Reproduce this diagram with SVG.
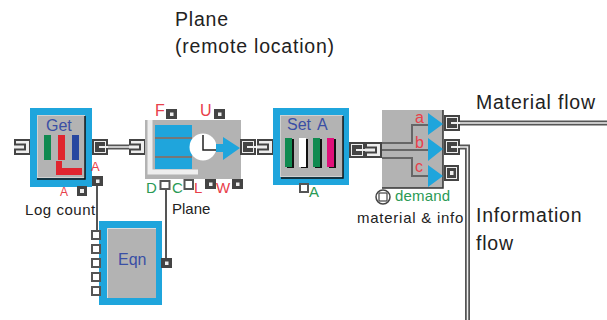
<svg xmlns="http://www.w3.org/2000/svg" width="607" height="320" viewBox="0 0 607 320">
<style>
text{font-family:"Liberation Sans",Arial,sans-serif}
.big{font-size:19.5px;fill:#222;letter-spacing:.8px}
.lab{font-size:15px;fill:#222;letter-spacing:.55px}
.r{font-size:14px;fill:#e8404a}
.g{font-size:15px;fill:#2a9a55}
.blu{font-size:16px;fill:#3a4fa5}
.wire{fill:none;stroke:#555;stroke-width:2}
.dbl{fill:none;stroke:#555;stroke-width:5}
.dbl2{fill:none;stroke:#eee;stroke-width:1.5}
.pf{fill:#fff;stroke:#555;stroke-width:2}
.frame{fill:#1fa5dc}
.body{fill:#b3b3b3}
.tri{fill:#1fa5dc}
.shadow{fill:none;stroke:#111;stroke-width:1.5}
.dots{fill:none;stroke:#eee;stroke-width:1;stroke-dasharray:1 1}
</style>
<defs>
<g id="pin"><rect x="1" y="1" width="15" height="14" fill="#eee" stroke="#444" stroke-width="2"/><path d="M0 5.5H11V10.5H0" fill="#eee" stroke="#444" stroke-width="2"/></g>
<g id="pout"><rect x="1" y="1" width="14" height="14" fill="#eee" stroke="#444" stroke-width="2"/><rect x="3" y="3" width="10" height="10" fill="#444"/><rect x="7" y="7" width="9" height="2" fill="#eee"/></g>
<g id="sd"><rect width="11" height="10" fill="#444"/><rect x="4" y="3.5" width="3.5" height="3.5" fill="#eee"/></g>
</defs>
<g id="connectors">
<path class="dbl" d="M107 147H130M458 123H607"/>
<path class="dbl2" d="M107 147H130M458 123H607"/>
<path class="dbl" d="M458 147H467.500V320"/>
<path class="dbl2" d="M458 147H467.500V320"/>
<path class="wire" d="M97 186V231M166 189V259"/>
</g>
<g id="title"><text class="big" x="175" y="26">Plane</text><text class="big" x="175" y="53">(remote location)</text></g>
<g id="source"><use href="#pin" x="14" y="139"/></g>
<g id="get">
<rect class="frame" x="30" y="108" width="62" height="79"/>
<rect class="body" x="37" y="115" width="48" height="63"/>
<rect class="dots" x="37.500" y="115.500" width="47" height="62"/>
<path class="shadow" d="M85 116V179H37"/>
<text class="blu" x="46" y="131">Get</text>
<rect x="44" y="135" width="7" height="25" fill="#108a50"/>
<rect x="58" y="135" width="7" height="25" fill="#e0252f"/>
<rect x="72" y="135" width="7" height="25" fill="#2848a0"/>
<path d="M56 161H62V168H82V175H56Z" fill="#e0252f"/>
<use href="#pout" x="92" y="139"/>
<text class="r" x="91" y="171" style="font-size:13px">A</text>
<rect x="77" y="186" width="10" height="10" fill="#444"/><rect x="80" y="189" width="4" height="4" fill="#eee"/>
<use href="#sd" x="92" y="176"/>
<text class="r" x="60" y="196" style="font-size:12px">A</text>
<text class="lab" x="25" y="215">Log count</text>
</g>
<g id="plane">
<use href="#pin" x="129" y="139"/>
<rect x="145" y="120" width="96" height="59" fill="#b3b3b3"/>
<path d="M150 120V172H198" fill="none" stroke="#eee" stroke-width="5"/>
<rect class="frame" x="155" y="125" width="37" height="44"/>
<path d="M155 138H192M155 157H192" stroke="#777" stroke-width="2"/>
<circle cx="203" cy="147" r="13.500" fill="#fff"/>
<path d="M203 135V150H216" fill="none" stroke="#222" stroke-width="1.5"/>
<path class="tri" d="M223 137L240 148L223 160V152H216V144H223Z"/>
<text class="r" x="155" y="116" style="font-size:16px">F</text><use href="#sd" x="166" y="109"/>
<text class="r" x="200" y="116" style="font-size:16px">U</text><use href="#sd" x="214" y="109"/>
<text class="g" x="146" y="193">D</text><rect class="pf" x="160.500" y="181" width="9" height="8"/>
<text class="g" x="172" y="193">C</text><rect class="pf" x="184.500" y="180" width="8.500" height="9"/>
<text class="r" x="194" y="193" style="font-size:15px">L</text><use href="#sd" x="205" y="179"/>
<text class="r" x="216" y="193" style="font-size:15px">W</text><use href="#sd" x="232" y="179"/>
<text class="lab" x="172" y="214" style="letter-spacing:0">Plane</text>
<use href="#pout" x="240" y="139"/>
<use href="#pin" x="257" y="139"/>
</g>
<g id="set">
<rect class="frame" x="273" y="108" width="76" height="77"/>
<rect class="body" x="280" y="115" width="63" height="62"/>
<rect class="dots" x="280.500" y="115.500" width="62" height="61"/>
<path class="shadow" d="M343 116V178H281"/>
<text class="blu" x="287" y="130">Set</text><text class="blu" x="317" y="130">A</text>
<rect x="287" y="139" width="7" height="29" fill="#111"/><rect x="285" y="138" width="7" height="29" fill="#108a50"/>
<rect x="301" y="139" width="7" height="29" fill="#111"/><rect x="299" y="138" width="7" height="29" fill="#fff"/>
<rect x="315" y="139" width="7" height="29" fill="#111"/><rect x="313" y="138" width="7" height="29" fill="#108a50"/>
<rect x="329" y="139" width="7" height="29" fill="#111"/><rect x="327" y="138" width="7" height="29" fill="#e0107a"/>
<rect class="pf" x="300" y="184" width="8" height="8"/>
<text class="g" x="309" y="197">A</text>
</g>
<g id="demand">
<rect class="body" x="382" y="110" width="61" height="78"/>
<path d="M443 110V188H382" fill="none" stroke="#333" stroke-width="1.5"/>
<path d="M382 143H412V125H428M382 150H428M382 158H412V176H428" fill="none" stroke="#666" stroke-width="2"/>
<path class="tri" d="M428 113L443 124L428 135ZM428 138L443 149L428 161ZM428 165L443 176L428 187Z"/>
<text class="r" x="415" y="123" style="font-size:16px">a</text><text class="r" x="415" y="148" style="font-size:16px">b</text><text class="r" x="415" y="172" style="font-size:16px">c</text>
<use href="#pout" x="349" y="142"/>
<use href="#pin" x="365" y="142"/>
<circle cx="383" cy="197" r="7" fill="none" stroke="#444" stroke-width="1.500"/><rect x="379" y="193" width="8" height="8" fill="#fff" stroke="#444" stroke-width="1.200"/>
<text class="g" x="395" y="201" letter-spacing=".2">demand</text>
<text class="lab" x="357" y="223" style="letter-spacing:.75px">material &amp; info</text>
<use href="#pout" x="444" y="115"/>
<use href="#pout" x="444" y="139"/>
<rect x="445" y="166" width="13" height="14" fill="#eee" stroke="#444" stroke-width="2"/><rect x="447" y="168" width="9" height="10" fill="#444"/><rect x="450" y="171" width="3.500" height="4" fill="#eee"/>
</g>
<g id="flow-labels">
<text class="big" x="476" y="109">Material flow</text>
<text class="big" x="476" y="222">Information</text>
<text class="big" x="476" y="250">flow</text>
</g>
<g id="eqn">
<rect class="frame" x="99" y="221" width="63" height="84"/>
<rect class="body" x="107" y="228" width="49" height="70"/>
<path d="M107.500 298V228.500H156" fill="none" stroke="#ddd"/>
<text class="blu" x="118" y="265">Eqn</text>
<rect class="pf" x="92" y="231" width="8" height="8"/><rect class="pf" x="92" y="245" width="8" height="8"/><rect class="pf" x="92" y="259" width="8" height="8"/><rect class="pf" x="92" y="273" width="8" height="8"/><rect class="pf" x="92" y="287" width="8" height="8"/>
<use href="#sd" x="161" y="258"/>
</g>
</svg>
